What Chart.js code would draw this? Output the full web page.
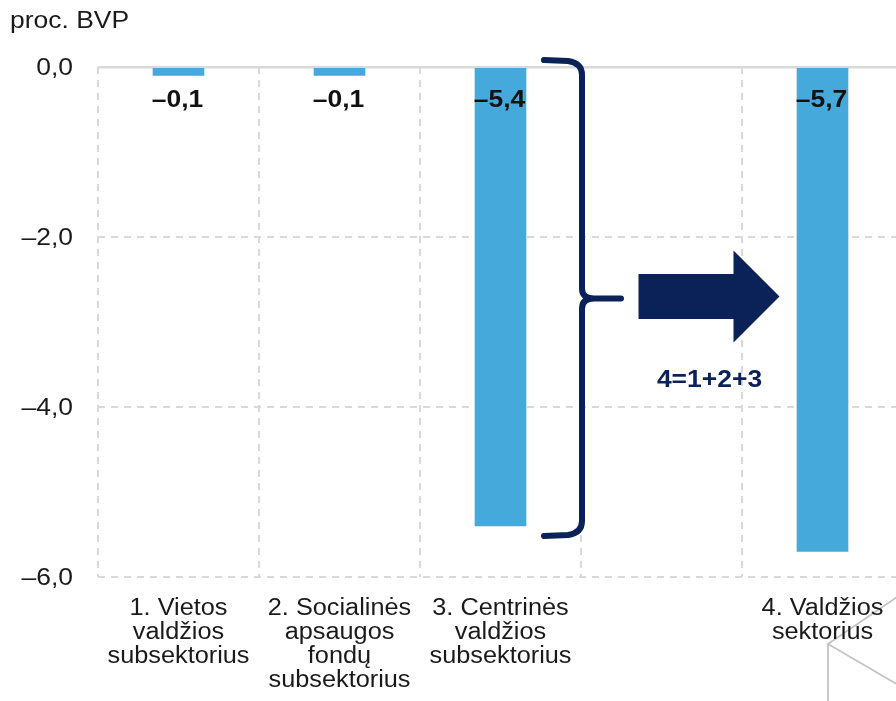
<!DOCTYPE html>
<html>
<head>
<meta charset="utf-8">
<script src="https://cdn.jsdelivr.net/npm/chart.js@4"></script>
<style>
body{margin:0;background:#fff;overflow:hidden;width:896px;height:701px;position:relative;font-family:"Liberation Sans",Arial,sans-serif;}
#unit{position:absolute;left:10px;top:7px;font-size:23px;color:#1a1a1a;transform:scaleX(1.15);transform-origin:left top;}
#wrap{position:absolute;left:0;top:0;width:903px;height:701px;}
</style>
</head>
<body>
<div id="wrap"><canvas id="chart"></canvas></div>
<div id="unit">proc. BVP</div>
<script>
// Duomenys
const kategorijos=[
  ["1. Vietos","valdžios","subsektorius"],
  ["2. Socialinės","apsaugos","fondų","subsektorius"],
  ["3. Centrinės","valdžios","subsektorius"],
  "",
  ["4. Valdžios","sektorius"]
];
const reiksmes=[-0.1,-0.1,-5.4,null,-5.7];
const yTicks=[0,-2,-4,-6];
const sumaTekstas="4=1+2+3";

const MELYNA="#45a9db";
const TAMSI="#0b2259";
const PILKA="#d9d9d9";
const SRIFTAS="'Liberation Sans', Arial, sans-serif";

function fmt(v){
  if(v===0) return "0,0";
  return (v<0?"–":"")+Math.abs(v).toFixed(1).replace(".",",");
}

// originalo tekstas šiek tiek ištemptas horizontaliai
function tekstas(c,str,x,y,align,sx){
  c.save();
  c.translate(x,y);c.scale(sx,1);
  c.textAlign=align;c.textBaseline="middle";
  c.fillText(str,0,0);
  c.restore();
}

// Fono linijos apatiniame dešiniajame kampe
const fonas={id:"fonas",beforeDraw(chart){
  const c=chart.ctx;
  c.save();
  c.strokeStyle="#c4c4c4";c.lineWidth=1.8;
  c.beginPath();
  c.moveTo(900,595);c.lineTo(828,644);c.lineTo(900,686);
  c.moveTo(828,644);c.lineTo(828,701);
  c.stroke();
  c.restore();
}};

// Ašių užrašai
const asys={id:"asys",afterDraw(chart){
  const c=chart.ctx,x=chart.scales.x,y=chart.scales.y;
  c.save();
  c.fillStyle="#1a1a1a";
  c.font="23px "+SRIFTAS;
  yTicks.forEach(v=>tekstas(c,fmt(v),73,y.getPixelForValue(v)+2,"right",1.15));
  kategorijos.forEach((lab,i)=>{
    const eil=Array.isArray(lab)?lab:[lab];
    const px=x.getPixelForValue(i);
    eil.forEach((t,k)=>tekstas(c,t,px,x.top+32+k*24,"center",1.1));
  });
  c.restore();
}};

// Reikšmių etiketės
const etiketes={id:"etiketes",afterDatasetsDraw(chart){
  const c=chart.ctx,y=chart.scales.y;
  const y0=y.getPixelForValue(0);
  c.save();
  c.font="bold 23px "+SRIFTAS;
  c.fillStyle="#111";
  chart.getDatasetMeta(0).data.forEach((el,i)=>{
    if(reiksmes[i]==null) return;
    tekstas(c,fmt(reiksmes[i]),el.x-1,y0+34,"center",1.15);
  });
  c.restore();
}};

// Skliaustas ir rodyklė
const rodykle={id:"rodykle",afterDatasetsDraw(chart){
  const c=chart.ctx,x=chart.scales.x,y=chart.scales.y;
  const y0=y.getPixelForValue(0);
  const y3=y.getPixelForValue(reiksmes[2]);
  const xb=(x.getPixelForValue(2)+x.getPixelForValue(3))/2+1;
  const yTop=y0-7,yBot=y3+10,yMid=(y0+y3)/2+2;
  c.save();
  c.strokeStyle=TAMSI;c.lineWidth=6;c.lineCap="round";c.lineJoin="round";
  c.beginPath();
  c.moveTo(xb-38,yTop);
  c.lineTo(xb-14,yTop+1);
  c.quadraticCurveTo(xb,yTop+3,xb,yTop+15);
  c.lineTo(xb,yMid-10);
  c.quadraticCurveTo(xb,yMid,xb+12,yMid);
  c.lineTo(xb+39,yMid);
  c.moveTo(xb+12,yMid);
  c.quadraticCurveTo(xb,yMid,xb,yMid+10);
  c.lineTo(xb,yBot-15);
  c.quadraticCurveTo(xb,yBot-3,xb-14,yBot-1);
  c.lineTo(xb-38,yBot);
  c.stroke();

  const cx=x.getPixelForValue(3);
  const ay=yMid-2;
  c.fillStyle=TAMSI;
  c.beginPath();
  c.moveTo(cx-23,ay-22.5);
  c.lineTo(cx+72,ay-22.5);
  c.lineTo(cx+72,ay-46);
  c.lineTo(cx+118,ay);
  c.lineTo(cx+72,ay+46);
  c.lineTo(cx+72,ay+22.5);
  c.lineTo(cx-23,ay+22.5);
  c.closePath();
  c.fill();

  c.font="bold 23px "+SRIFTAS;
  tekstas(c,sumaTekstas,cx+48,ay+84,"center",1.15);
  c.restore();
}};

new Chart(document.getElementById("chart"),{
  type:"bar",
  data:{labels:kategorijos,datasets:[{data:reiksmes,backgroundColor:MELYNA,barThickness:51}]},
  options:{
    responsive:true,maintainAspectRatio:false,animation:false,
    layout:{padding:{top:67,right:0,bottom:0,left:0}},
    plugins:{legend:{display:false},tooltip:{enabled:false}},
    scales:{
      x:{
        offset:true,
        grid:{offset:true,color:PILKA,lineWidth:2,drawTicks:false},
        border:{display:false,dash:[7,6]},
        ticks:{display:false},
        afterFit(s){s.height=124;}
      },
      y:{
        min:-6,max:0,
        afterBuildTicks(s){s.ticks=yTicks.map(v=>({value:v}));},
        grid:{color:PILKA,lineWidth:ctx=>ctx.tick&&ctx.tick.value===0?2.5:2,drawTicks:false},
        border:{display:false,dash:ctx=>ctx.tick&&ctx.tick.value===0?[]:[7,6]},
        ticks:{display:false},
        afterFit(s){s.width=98;}
      }
    }
  },
  plugins:[fonas,asys,etiketes,rodykle]
});
</script>
</body>
</html>
